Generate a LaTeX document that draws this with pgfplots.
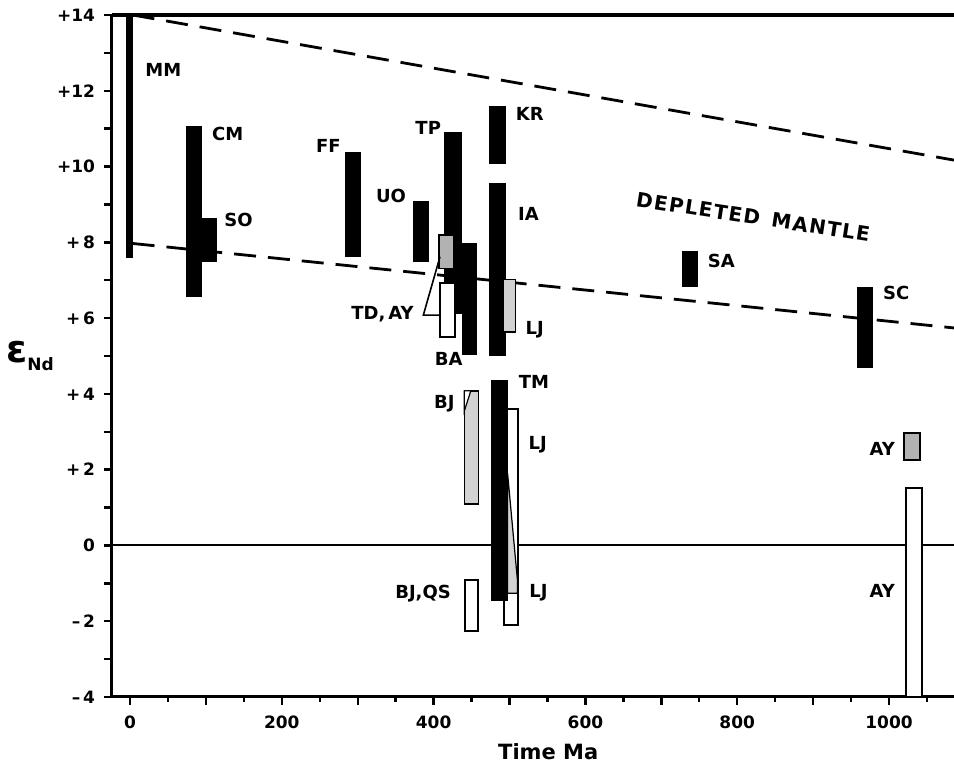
\documentclass[border=0pt]{standalone}
\usepackage{pgfplots}
\pgfplotsset{compat=1.18}
\usepackage{fontspec}
\setmainfont{DejaVu Sans}
\newcommand{\rbar}[5]{\addplot[#5] coordinates {(#1,#3) (#2,#3) (#2,#4) (#1,#4)} -- cycle;}
\newcommand{\lab}{\fontsize{9}{10}\selectfont\bfseries}
\newcommand{\tlab}{\fontsize{8.5}{10}\selectfont\bfseries}
\begin{document}
\begin{tikzpicture}
\begin{axis}[
  scale only axis, width=421pt, height=341pt,
  xmin=-23.7, xmax=1085.6, ymin=-4, ymax=14,
  axis x line*=box, axis y line*=left,
  xtick pos=lower, ytick pos=left,
  clip=false,
  axis line style={line width=1.5pt},
  tick align=outside,
  major tick length=4pt, minor tick length=2.5pt,
  every tick/.style={line width=1.2pt, black},
  xtick={0,100,...,1000},
  xticklabels={0,,200,,400,,600,,800,,1000},
  minor xtick={50,150,...,1050},
  ytick={-4,...,14},
  yticklabels={--\,4,,--\,2,,0,,+\,2,,+\,4,,+\,6,,+\,8,,+10,,+12,,+14},
  ticklabel style={font=\tlab},
  xticklabel style={yshift=-2pt},
  yticklabel style={xshift=-1pt},
]
% zero line and depleted mantle lines
\addplot[line width=1pt] coordinates {(-23.7,0) (1085.6,0)};
\addplot[line width=1.4pt, dash pattern=on 11pt off 6pt] coordinates {(3.5,14) (1085.6,10.17)};
\addplot[line width=1.4pt, dash pattern=on 11pt off 6pt] coordinates {(3.5,7.97) (1085.6,5.74)};
\addplot[line width=2.2pt] coordinates {(-23.7,14) (1085.6,14)};

% black bars
\rbar{-5}{3.5}{7.59}{14}{fill=black, draw=black}
\rbar{74.7}{93.5}{6.58}{11.05}{fill=black, draw=black}
\rbar{93.5}{114}{7.49}{8.63}{fill=black, draw=black}
\rbar{284}{304}{7.64}{10.37}{fill=black, draw=black}
\rbar{373}{393}{7.49}{9.07}{fill=black, draw=black}
\rbar{414}{437}{6.13}{10.9}{fill=black, draw=black}
\rbar{438}{457}{5.05}{7.97}{fill=black, draw=black}
\rbar{474}{494}{10.08}{11.6}{fill=black, draw=black}
\rbar{474}{494}{5.02}{9.55}{fill=black, draw=black}
\rbar{727.7}{748}{6.83}{7.75}{fill=black, draw=black}
\rbar{958.7}{978.5}{4.69}{6.81}{fill=black, draw=black}

% grey bars
\rbar{407.5}{427}{7.31}{8.19}{fill=gray!60, draw=black, line width=0.8pt}
\rbar{1020}{1041}{2.25}{2.96}{fill=gray!60, draw=black, line width=0.8pt}
\rbar{492}{508}{5.64}{7.02}{fill=gray!35, draw=black, line width=0.8pt}
\rbar{440.5}{459}{1.09}{4.08}{fill=gray!35, draw=black, line width=0.8pt}
\addplot[fill=white, draw=black, line width=0.6pt] coordinates {(440.5,4.08) (449,4.08) (440.5,3.55)} -- cycle;

% white bars
\rbar{408.4}{428}{5.51}{6.93}{fill=white, draw=black, line width=1pt}
\rbar{493}{511.6}{-2.1}{3.6}{fill=white, draw=black, line width=1pt}
\rbar{441}{459}{-2.26}{-0.91}{fill=white, draw=black, line width=1pt}
\rbar{1022}{1043}{-4}{1.52}{fill=white, draw=black, line width=1pt}

% TM over LJ, then wedge
\rbar{476.5}{497.5}{-1.44}{4.35}{fill=black, draw=black}
\addplot[fill=gray!35, draw=black, line width=0.6pt] coordinates {(497.5,1.9) (510.6,-0.95) (510.6,-1.26) (497.5,-1.26)} -- cycle;

% leader lines TD, AY
\addplot[line width=0.8pt] coordinates {(408.4,7.62) (386.5,6.08) (408.4,6.08)};

% labels
\node[font=\lab, anchor=west] at (axis cs:11,12.56) {MM};
\node[font=\lab, anchor=west] at (axis cs:99,10.86) {CM};
\node[font=\lab, anchor=west] at (axis cs:115,8.6) {SO};
\node[font=\lab, anchor=east] at (axis cs:287,10.54) {FF};
\node[font=\lab, anchor=east] at (axis cs:373,9.22) {UO};
\node[font=\lab, anchor=east] at (axis cs:419,11.03) {TP};
\node[font=\lab, anchor=west] at (axis cs:499,11.38) {KR};
\node[font=\lab, anchor=west] at (axis cs:502,8.75) {IA};
\node[font=\lab, anchor=east] at (axis cs:383,6.1) {TD,\,AY};
\node[font=\lab, anchor=west] at (axis cs:512,5.69) {LJ};
\node[font=\lab] at (axis cs:420,4.91) {BA};
\node[font=\lab, anchor=west] at (axis cs:503,4.32) {TM};
\node[font=\lab, anchor=east] at (axis cs:437,3.75) {BJ};
\node[font=\lab, anchor=west] at (axis cs:516,2.65) {LJ};
\node[font=\lab, anchor=west] at (axis cs:517,-1.26) {LJ};
\node[font=\lab, anchor=east] at (axis cs:432,-1.28) {BJ,QS};
\node[font=\lab, anchor=west] at (axis cs:752,7.51) {SA};
\node[font=\lab, anchor=west] at (axis cs:983,6.67) {SC};
\node[font=\lab, anchor=east] at (axis cs:1017,2.56) {AY};
\node[font=\lab, anchor=east] at (axis cs:1017,-1.19) {AY};
\node[font=\fontsize{10}{12}\selectfont\bfseries\addfontfeature{LetterSpace=7}, rotate=-8.7] at (axis cs:821,8.67) {DEPLETED\, MANTLE};
\node[font=\fontsize{10.5}{12}\selectfont\bfseries, anchor=base] at (axis cs:551,-4) [yshift=-31pt] {Time Ma};
\node[anchor=center] at (axis cs:-23.7,5.0) [xshift=-41pt] {\fontsize{19}{22}\selectfont\bfseries ε\raisebox{-4pt}{\fontsize{8.5}{10}\selectfont\bfseries Nd}};
\end{axis}
\pgfresetboundingbox
\path[use as bounding box] ([xshift=-56pt, yshift=-34.5pt]current axis.south west) rectangle ([yshift=7.5pt]current axis.north east);
\end{tikzpicture}
\end{document}
